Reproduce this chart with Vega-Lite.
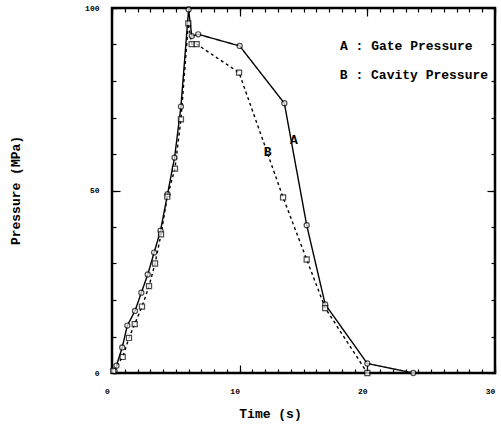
{
  "$schema": "https://vega.github.io/schema/vega-lite/v6.json",
  "width": 383,
  "height": 365,
  "autosize": {"type": "none"},
  "padding": {"left": 112, "top": 8, "right": 6, "bottom": 52},
  "background": "white",
  "config": {
    "view": {"stroke": "black", "strokeWidth": 2.5},
    "axis": {
      "domain": false,
      "grid": false,
      "labelFlush": false,
      "tickColor": "black",
      "tickWidth": 1.2,
      "labelFont": "Liberation Mono",
      "labelFontWeight": "bold",
      "labelFontSize": 8,
      "labelColor": "black",
      "titleFont": "Liberation Mono",
      "titleFontWeight": "bold",
      "titleFontSize": 13,
      "titleColor": "black"
    }
  },
  "datasets": {
    "series": [
      {"s": "A", "t": 0.2, "p": 0.5},
      {"s": "A", "t": 0.35, "p": 2},
      {"s": "A", "t": 0.8, "p": 7},
      {"s": "A", "t": 1.2, "p": 13},
      {"s": "A", "t": 1.8, "p": 17},
      {"s": "A", "t": 2.3, "p": 22},
      {"s": "A", "t": 2.8, "p": 27},
      {"s": "A", "t": 3.3, "p": 33},
      {"s": "A", "t": 3.8, "p": 39},
      {"s": "A", "t": 4.35, "p": 49},
      {"s": "A", "t": 4.9, "p": 59},
      {"s": "A", "t": 5.4, "p": 73},
      {"s": "A", "t": 6.0, "p": 99.6},
      {"s": "A", "t": 6.25, "p": 92.3},
      {"s": "A", "t": 6.75, "p": 92.8},
      {"s": "A", "t": 10.0, "p": 89.6},
      {"s": "A", "t": 13.5, "p": 73.9},
      {"s": "A", "t": 15.25, "p": 40.5},
      {"s": "A", "t": 16.7, "p": 18.8},
      {"s": "A", "t": 20.0, "p": 2.6},
      {"s": "A", "t": 23.6, "p": 0},
      {"s": "B", "t": 0.1, "p": 0.6},
      {"s": "B", "t": 0.84, "p": 4.4},
      {"s": "B", "t": 1.33, "p": 9.6},
      {"s": "B", "t": 1.78, "p": 13.4},
      {"s": "B", "t": 2.35, "p": 18.2},
      {"s": "B", "t": 2.9, "p": 23.8},
      {"s": "B", "t": 3.37, "p": 30},
      {"s": "B", "t": 3.84, "p": 38},
      {"s": "B", "t": 4.33, "p": 48.3},
      {"s": "B", "t": 4.93, "p": 56},
      {"s": "B", "t": 5.4, "p": 69.5},
      {"s": "B", "t": 5.98, "p": 95.8},
      {"s": "B", "t": 6.24, "p": 90.1},
      {"s": "B", "t": 6.63, "p": 90.1},
      {"s": "B", "t": 9.95, "p": 82.3},
      {"s": "B", "t": 13.4, "p": 48.1},
      {"s": "B", "t": 15.25, "p": 31.1},
      {"s": "B", "t": 16.7, "p": 17.8},
      {"s": "B", "t": 20.0, "p": 0}
    ],
    "notes": [
      {"t": 23.05, "p": 89.6, "label": "A : Gate Pressure"},
      {"t": 23.65, "p": 81.6, "label": "B : Cavity Pressure"},
      {"t": 14.25, "p": 63.8, "label": "A"},
      {"t": 12.2, "p": 60.5, "label": "B"}
    ]
  },
  "layer": [
    {
      "data": {"name": "series"},
      "mark": {"type": "line", "color": "black", "strokeWidth": 1.4},
      "encoding": {
        "x": {
          "field": "t", "type": "quantitative",
          "scale": {"domain": [0, 30], "nice": false, "zero": false},
          "axis": {
            "orient": "bottom", "values": [0, 10, 20, 30], "tickSize": -8,
            "labelPadding": 22, "labelOffset": -5,
            "title": "Time (s)", "titleX": 158, "titleY": 40, "titleBaseline": "middle", "titleAnchor": "middle"
          }
        },
        "y": {
          "field": "p", "type": "quantitative",
          "scale": {"domain": [0, 100], "nice": false},
          "axis": {
            "orient": "left", "values": [0, 50, 100], "tickSize": -8,
            "labelPadding": 21, "labelDy": 2,
            "title": "Pressure (MPa)", "titleX": -97, "titleY": 182, "titleBaseline": "middle", "titleAnchor": "middle"
          }
        },
        "detail": {"field": "s"},
        "strokeDash": {
          "field": "s", "type": "nominal",
          "scale": {"domain": ["A", "B"], "range": [[1, 0], [3, 3]]},
          "legend": null
        }
      }
    },
    {
      "data": {"name": "series"},
      "transform": [{"filter": "datum.s === 'A'"}],
      "mark": {"type": "point", "shape": "circle", "filled": true, "fill": "white", "stroke": "black", "strokeWidth": 1.2, "size": 26},
      "encoding": {
        "x": {
          "field": "t", "type": "quantitative",
          "axis": {
            "orient": "bottom", "labels": false, "title": null, "tickSize": -4,
            "values": [0,1,2,3,4,5,6,7,8,9,10,11,12,13,14,15,16,17,18,19,20,21,22,23,24,25,26,27,28,29,30]
          }
        },
        "y": {
          "field": "p", "type": "quantitative",
          "axis": {
            "orient": "left", "labels": false, "title": null, "tickSize": -4,
            "values": [0,10,20,30,40,50,60,70,80,90,100]
          }
        }
      }
    },
    {
      "data": {"name": "series"},
      "transform": [{"filter": "datum.s === 'B'"}],
      "mark": {"type": "point", "shape": "square", "filled": true, "fill": "white", "stroke": "black", "strokeWidth": 1.2, "size": 26},
      "encoding": {
        "x": {
          "field": "t", "type": "quantitative",
          "axis": {
            "orient": "top", "labels": false, "title": null, "tickSize": -4,
            "values": [0,1,2,3,4,5,6,7,8,9,10,11,12,13,14,15,16,17,18,19,20,21,22,23,24,25,26,27,28,29,30]
          }
        },
        "y": {
          "field": "p", "type": "quantitative",
          "axis": {
            "orient": "right", "labels": false, "title": null, "tickSize": -4,
            "values": [0,10,20,30,40,50,60,70,80,90,100]
          }
        }
      }
    },
    {
      "data": {"name": "notes"},
      "mark": {"type": "text", "font": "Liberation Mono", "fontWeight": "bold", "fontSize": 13, "color": "black", "align": "center", "baseline": "middle"},
      "encoding": {
        "x": {
          "field": "t", "type": "quantitative",
          "axis": {"orient": "top", "labels": false, "title": null, "tickSize": -8, "values": [0, 10, 20, 30]}
        },
        "y": {
          "field": "p", "type": "quantitative",
          "axis": {"orient": "right", "labels": false, "title": null, "tickSize": -8, "values": [0, 50, 100]}
        },
        "text": {"field": "label"}
      }
    }
  ],
  "resolve": {"axis": {"x": "independent", "y": "independent"}}
}
